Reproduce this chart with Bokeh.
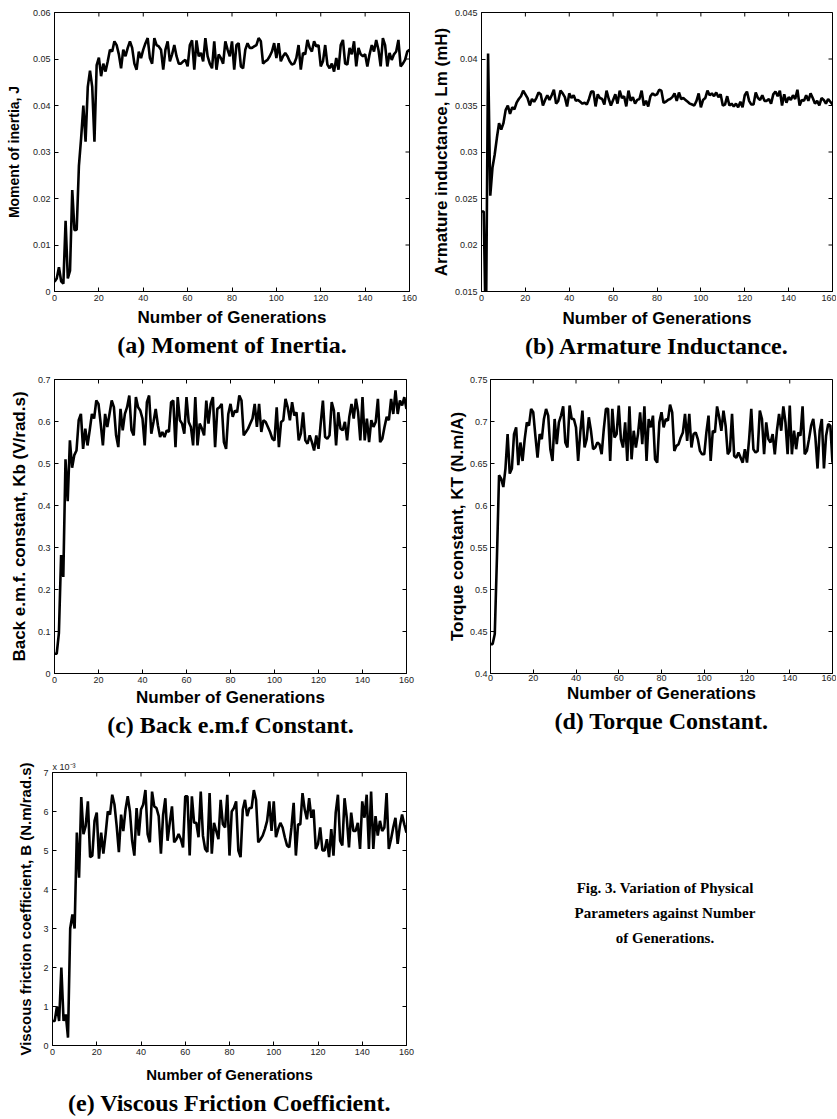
import math
from bokeh.plotting import figure
from bokeh.layouts import column, row
from bokeh.models import Range1d, FixedTicker, Title, Div
from bokeh.embed import file_html
from bokeh.resources import INLINE

# ---------------- data ----------------
x_tick_values = [0, 20, 40, 60, 80, 100, 120, 140, 160]

moment_of_inertia_J = [
    0.0021, 0.0028, 0.0052, 0.0022, 0.0017, 0.0152, 0.0028, 0.0045, 0.0218, 0.0132,
    0.0133, 0.0270, 0.0330, 0.0400, 0.0322, 0.0440, 0.0475, 0.0440, 0.0322, 0.0487,
    0.0503, 0.0463, 0.0490, 0.0473, 0.0495, 0.0520, 0.0516, 0.0538, 0.0530, 0.0510,
    0.0480, 0.0520, 0.0506, 0.0524, 0.0538, 0.0524, 0.0490, 0.0477, 0.0516, 0.0502,
    0.0520, 0.0534, 0.0545, 0.0502, 0.0490, 0.0545, 0.0530, 0.0527, 0.0520, 0.0477,
    0.0520, 0.0538, 0.0495, 0.0510, 0.0530, 0.0506, 0.0490, 0.0490, 0.0495, 0.0498,
    0.0484, 0.0530, 0.0540, 0.0477, 0.0540, 0.0506, 0.0513, 0.0495, 0.0545, 0.0506,
    0.0490, 0.0480, 0.0538, 0.0477, 0.0510, 0.0502, 0.0490, 0.0538, 0.0520, 0.0506,
    0.0538, 0.0477, 0.0530, 0.0534, 0.0484, 0.0480, 0.0520, 0.0534, 0.0524, 0.0524,
    0.0527, 0.0530, 0.0545, 0.0538, 0.0490, 0.0495, 0.0498, 0.0506, 0.0516, 0.0534,
    0.0502, 0.0534, 0.0495, 0.0506, 0.0513, 0.0506, 0.0495, 0.0488, 0.0490, 0.0502,
    0.0530, 0.0477, 0.0513, 0.0510, 0.0541, 0.0524, 0.0516, 0.0538, 0.0527, 0.0530,
    0.0484, 0.0495, 0.0530, 0.0488, 0.0480, 0.0490, 0.0473, 0.0502, 0.0477, 0.0530,
    0.0541, 0.0490, 0.0488, 0.0524, 0.0510, 0.0538, 0.0484, 0.0524, 0.0510, 0.0506,
    0.0510, 0.0484, 0.0510, 0.0530, 0.0516, 0.0541, 0.0520, 0.0484, 0.0545, 0.0530,
    0.0484, 0.0513, 0.0498, 0.0510, 0.0516, 0.0541, 0.0484, 0.0490, 0.0498, 0.0516,
    0.0520,
]

armature_inductance_Lm = [
    0.0236, 0.0236, 0.0100, 0.0406, 0.0253, 0.0283, 0.0297, 0.0315, 0.0331, 0.0324,
    0.0331, 0.0345, 0.0350, 0.0341, 0.0348, 0.0346, 0.0353, 0.0357, 0.0360, 0.0366,
    0.0362, 0.0358, 0.0350, 0.0357, 0.0354, 0.0358, 0.0364, 0.0362, 0.0350, 0.0356,
    0.0361, 0.0356, 0.0361, 0.0367, 0.0352, 0.0355, 0.0366, 0.0363, 0.0359, 0.0349,
    0.0363, 0.0358, 0.0361, 0.0355, 0.0356, 0.0354, 0.0352, 0.0353, 0.0351, 0.0357,
    0.0365, 0.0365, 0.0349, 0.0362, 0.0358, 0.0357, 0.0351, 0.0366, 0.0357, 0.0350,
    0.0356, 0.0362, 0.0352, 0.0366, 0.0358, 0.0360, 0.0349, 0.0366, 0.0355, 0.0359,
    0.0352, 0.0356, 0.0357, 0.0366, 0.0350, 0.0355, 0.0349, 0.0360, 0.0363, 0.0361,
    0.0362, 0.0367, 0.0366, 0.0353, 0.0354, 0.0356, 0.0357, 0.0359, 0.0363, 0.0355,
    0.0364, 0.0357, 0.0358, 0.0356, 0.0354, 0.0352, 0.0351, 0.0350, 0.0355, 0.0363,
    0.0348, 0.0356, 0.0358, 0.0366, 0.0361, 0.0363, 0.0360, 0.0364, 0.0359, 0.0362,
    0.0350, 0.0351, 0.0360, 0.0350, 0.0352, 0.0349, 0.0352, 0.0348, 0.0354, 0.0348,
    0.0361, 0.0365, 0.0355, 0.0351, 0.0351, 0.0364, 0.0358, 0.0356, 0.0361, 0.0355,
    0.0355, 0.0357, 0.0352, 0.0362, 0.0365, 0.0360, 0.0366, 0.0350, 0.0362, 0.0353,
    0.0359, 0.0356, 0.0361, 0.0357, 0.0367, 0.0350, 0.0356, 0.0355, 0.0361, 0.0355,
    0.0363, 0.0358, 0.0352, 0.0355, 0.0350, 0.0358, 0.0356, 0.0352, 0.0357, 0.0354,
    0.0351,
]

back_emf_Kb = [
    0.047, 0.047, 0.096, 0.282, 0.230, 0.510, 0.410, 0.555, 0.490, 0.520,
    0.531, 0.603, 0.618, 0.535, 0.583, 0.543, 0.579, 0.618, 0.607, 0.650,
    0.642, 0.595, 0.543, 0.618, 0.587, 0.618, 0.650, 0.634, 0.567, 0.539,
    0.630, 0.579, 0.618, 0.634, 0.662, 0.579, 0.567, 0.658, 0.634, 0.626,
    0.607, 0.543, 0.646, 0.662, 0.571, 0.599, 0.630, 0.591, 0.563, 0.575,
    0.563, 0.579, 0.575, 0.646, 0.650, 0.539, 0.658, 0.603, 0.595, 0.571,
    0.658, 0.599, 0.587, 0.543, 0.658, 0.543, 0.595, 0.583, 0.567, 0.650,
    0.595, 0.642, 0.658, 0.539, 0.630, 0.634, 0.642, 0.551, 0.535, 0.618,
    0.642, 0.611, 0.626, 0.622, 0.662, 0.650, 0.567, 0.575, 0.583, 0.595,
    0.607, 0.642, 0.587, 0.642, 0.575, 0.603, 0.599, 0.587, 0.575, 0.559,
    0.555, 0.634, 0.539, 0.599, 0.603, 0.654, 0.634, 0.603, 0.646, 0.614,
    0.622, 0.555, 0.571, 0.622, 0.555, 0.547, 0.567, 0.551, 0.531, 0.567,
    0.535, 0.595, 0.650, 0.563, 0.559, 0.567, 0.646, 0.626, 0.543, 0.622,
    0.583, 0.579, 0.599, 0.555, 0.611, 0.642, 0.607, 0.654, 0.622, 0.555,
    0.658, 0.555, 0.607, 0.551, 0.603, 0.587, 0.599, 0.654, 0.551, 0.559,
    0.587, 0.611, 0.603, 0.654, 0.618, 0.674, 0.618, 0.650, 0.638, 0.658,
    0.630,
]

torque_constant_KT = [
    0.435, 0.435, 0.447, 0.537, 0.636, 0.632, 0.622, 0.644, 0.685, 0.638,
    0.644, 0.685, 0.693, 0.648, 0.675, 0.653, 0.679, 0.699, 0.695, 0.715,
    0.711, 0.683, 0.657, 0.685, 0.679, 0.703, 0.715, 0.707, 0.667, 0.653,
    0.703, 0.673, 0.699, 0.707, 0.718, 0.675, 0.669, 0.719, 0.703, 0.703,
    0.693, 0.653, 0.687, 0.713, 0.669, 0.679, 0.705, 0.689, 0.667, 0.669,
    0.675, 0.673, 0.661, 0.691, 0.715, 0.715, 0.653, 0.715, 0.681, 0.685,
    0.719, 0.679, 0.669, 0.699, 0.653, 0.718, 0.655, 0.689, 0.669, 0.685,
    0.711, 0.673, 0.718, 0.653, 0.703, 0.693, 0.707, 0.655, 0.651, 0.699,
    0.711, 0.693, 0.703, 0.701, 0.720, 0.711, 0.665, 0.671, 0.673, 0.681,
    0.687, 0.709, 0.677, 0.709, 0.669, 0.685, 0.687, 0.679, 0.665, 0.661,
    0.661, 0.687, 0.707, 0.653, 0.689, 0.687, 0.718, 0.705, 0.689, 0.713,
    0.695, 0.661, 0.665, 0.709, 0.659, 0.657, 0.663, 0.657, 0.651, 0.667,
    0.651, 0.679, 0.715, 0.667, 0.663, 0.665, 0.713, 0.703, 0.661, 0.699,
    0.679, 0.675, 0.685, 0.661, 0.689, 0.709, 0.689, 0.718, 0.699, 0.661,
    0.719, 0.661, 0.689, 0.667, 0.687, 0.683, 0.718, 0.661, 0.665, 0.679,
    0.695, 0.703, 0.681, 0.644, 0.689, 0.703, 0.644, 0.683, 0.697, 0.695,
    0.651,
]

# viscous friction coefficient in units of 1e-3
viscous_friction_B_e3 = [
    0.63, 0.63, 1.00, 0.63, 2.00, 0.63, 0.80, 0.20, 3.00, 3.36,
    3.00, 5.46, 4.30, 6.37, 5.42, 5.63, 6.26, 4.83, 4.87, 5.76,
    5.97, 4.79, 5.46, 4.92, 5.42, 6.00, 5.92, 6.43, 6.18, 5.63,
    4.96, 5.92, 5.50, 6.05, 6.39, 6.00, 5.25, 4.87, 6.09, 5.38,
    6.05, 6.18, 6.55, 5.42, 5.21, 6.51, 6.13, 6.09, 5.88, 4.92,
    5.92, 6.34, 5.25, 5.71, 6.13, 5.21, 5.29, 5.42, 5.29, 5.08,
    6.39, 6.39, 4.87, 6.39, 5.71, 5.71, 5.34, 6.51, 5.38, 5.04,
    4.96, 6.47, 4.92, 5.71, 5.50, 5.29, 6.30, 5.67, 5.59, 6.43,
    4.87, 6.00, 6.09, 6.26, 5.00, 4.83, 6.05, 6.30, 5.88, 6.09,
    6.09, 6.55, 6.30, 5.21, 5.29, 5.38, 5.55, 5.76, 6.26, 5.50,
    6.26, 5.34, 5.55, 5.71, 5.59, 5.34, 5.13, 5.08, 5.59, 6.22,
    4.87, 5.67, 5.67, 6.47, 6.05, 5.80, 6.34, 5.84, 6.05, 5.04,
    5.17, 5.59, 5.00, 5.00, 5.29, 4.83, 5.55, 4.87, 5.97, 6.43,
    5.25, 5.13, 6.34, 5.84, 5.08, 5.97, 5.50, 5.50, 5.71, 5.04,
    6.26, 5.84, 6.43, 5.04, 6.51, 5.04, 5.88, 5.38, 5.76, 5.50,
    5.59, 6.47, 5.04, 5.29, 5.59, 5.84, 5.17, 5.63, 5.92, 5.67,
    5.46,
]

ticks_J = [0.0, 0.01, 0.02, 0.03, 0.04, 0.05, 0.06]
labels_J = ["0", "0.01", "0.02", "0.03", "0.04", "0.05", "0.06"]
ticks_Lm = [0.015, 0.02, 0.025, 0.03, 0.035, 0.04, 0.045]
labels_Lm = ["0.015", "0.02", "0.025", "0.03", "0.035", "0.04", "0.045"]
ticks_Kb = [0.0, 0.1, 0.2, 0.3, 0.4, 0.5, 0.6, 0.7]
labels_Kb = ["0", "0.1", "0.2", "0.3", "0.4", "0.5", "0.6", "0.7"]
ticks_KT = [0.4, 0.45, 0.5, 0.55, 0.6, 0.65, 0.7, 0.75]
labels_KT = ["0.4", "0.45", "0.5", "0.55", "0.6", "0.65", "0.7", "0.75"]
ticks_B = [0, 1, 2, 3, 4, 5, 6, 7]
labels_B = ["0", "1", "2", "3", "4", "5", "6", "7"]

SANS = "Liberation Sans"
SERIF = "Liberation Serif"
X_LO, X_HI = 0, 160


def make_panel(values, y_lo, y_hi, yticks, ylabels, ylabel, caption,
               width, height, bl, br, bt, bb,
               lab_size="17px", ylab_size="17px",
               x_lab_standoff=3, x_tick_standoff=3,
               y_lab_standoff=6, y_tick_standoff=4, title_standoff=0):
    p = figure(width=width, height=height, output_backend="svg",
               toolbar_location=None,
               x_range=Range1d(X_LO, X_HI), y_range=Range1d(y_lo, y_hi),
               min_border_left=bl, min_border_right=br,
               min_border_top=bt, min_border_bottom=bb)
    p.outline_line_color = "black"
    p.outline_line_width = 1
    p.xgrid.visible = False
    p.ygrid.visible = False
    p.background_fill_color = "white"
    p.border_fill_color = "white"

    gens = list(range(len(values)))
    p.line(gens, values, line_color="black", line_width=2.6)

    # inward tick marks on the top and right edges of the box (clipped to the frame)
    p.scatter(x_tick_values, [y_hi] * len(x_tick_values), marker="dash",
              size=8, angle=math.pi / 2, line_color="black", line_width=1)
    p.scatter([X_HI] * len(yticks), yticks, marker="dash",
              size=8, angle=0, line_color="black", line_width=1)

    for ax in (p.xaxis[0], p.yaxis[0]):
        ax.axis_line_color = "black"
        ax.major_tick_in = 4
        ax.major_tick_out = 0
        ax.minor_tick_line_color = None
        ax.major_tick_line_color = "black"
        ax.major_label_text_font = SANS
        ax.major_label_text_font_size = "9px"
        ax.major_label_text_color = "#222222"
        ax.axis_label_text_font = SANS
        ax.axis_label_text_font_style = "bold"
        ax.axis_label_text_color = "black"

    p.xaxis[0].ticker = FixedTicker(ticks=x_tick_values)
    p.xaxis[0].axis_label = "Number of Generations"
    p.xaxis[0].axis_label_text_font_size = lab_size
    p.xaxis[0].major_label_standoff = x_tick_standoff
    p.xaxis[0].axis_label_standoff = x_lab_standoff

    p.yaxis[0].ticker = FixedTicker(ticks=yticks)
    p.yaxis[0].major_label_overrides = {t: l for t, l in zip(yticks, ylabels)}
    p.yaxis[0].axis_label = ylabel
    p.yaxis[0].axis_label_text_font_size = ylab_size
    p.yaxis[0].major_label_standoff = y_tick_standoff
    p.yaxis[0].axis_label_standoff = y_lab_standoff

    p.add_layout(Title(text=caption, align="center", text_font=SERIF,
                       text_font_size="24px", text_font_style="bold",
                       text_color="black", standoff=title_standoff), "below")
    return p


fig_a = make_panel(moment_of_inertia_J, 0, 0.06, ticks_J, labels_J,
                   "Moment of inertia, J", "(a) Moment of Inertia.",
                   418, 368, 54, 9, 11, 77, ylab_size="14px",
                   x_lab_standoff=4, y_lab_standoff=8)
fig_b = make_panel(armature_inductance_Lm, 0.015, 0.045, ticks_Lm, labels_Lm,
                   "Armature inductance, Lm (mH)", "(b) Armature Inductance.",
                   418, 368, 63, 4, 12, 72,
                   x_lab_standoff=5, y_lab_standoff=1)
fig_c = make_panel(back_emf_Kb, 0, 0.7, ticks_Kb, labels_Kb,
                   "Back e.m.f. constant, Kb (V/rad.s)", "(c) Back e.m.f Constant.",
                   418, 370, 54, 12, 11, 64,
                   x_lab_standoff=2)
fig_d = make_panel(torque_constant_KT, 0.4, 0.75, ticks_KT, labels_KT,
                   "Torque constant, KT (N.m/A)", "(d) Torque Constant.",
                   418, 370, 72, 4, 9, 65,
                   x_lab_standoff=0, x_tick_standoff=1, y_lab_standoff=0, y_tick_standoff=3)
fig_e = make_panel(viscous_friction_B_e3, 0, 7, ticks_B, labels_B,
                   "Viscous friction coefficient, B (N.m/rad.s)",
                   "(e) Viscous Friction Coefficient.",
                   418, 380, 52, 12, 34, 68, lab_size="15px", ylab_size="15px",
                   x_lab_standoff=8, title_standoff=5)
fig_e.add_layout(Title(text="x 10\u207b\u00b3", align="left", text_font=SANS,
                       text_font_size="9px", text_font_style="normal",
                       text_color="#222222", standoff=2), "above")

caption_div = Div(
    text=("<div style=\"margin-left:77px;width:330px;padding-top:133px;"
          "text-align:center;font-family:'Liberation Serif',serif;font-weight:bold;"
          "font-size:15px;line-height:25px;color:#000;\">"
          "Fig. 3. Variation of Physical<br>Parameters against Number<br>of Generations.</div>"),
    width=418, height=380)

layout = column(row(fig_a, fig_b), row(fig_c, fig_d), row(fig_e, caption_div))

open("out.html", "w").write(file_html(layout, INLINE))
